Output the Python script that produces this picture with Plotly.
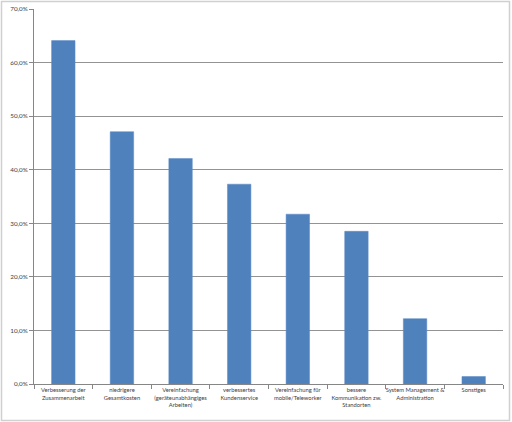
import plotly.graph_objects as go

categories = [
    "Verbesserung der<br>Zusammenarbeit",
    "niedrigere<br>Gesamtkosten",
    "Vereinfachung<br>(geräteunabhängiges<br>Arbeiten)",
    "verbessertes<br>Kundenservice",
    "Vereinfachung für<br>mobile/Teleworker",
    "bessere<br>Kommunikation zw.<br>Standorten",
    "System Management &<br>Administration",
    "Sonstiges",
]
values = [64.1, 47.1, 42.1, 37.3, 31.7, 28.5, 12.2, 1.4]
y_ticks = [0, 10, 20, 30, 40, 50, 60, 70]
y_tick_labels = ["0,0%", "10,0%", "20,0%", "30,0%", "40,0%", "50,0%", "60,0%", "70,0%"]

W, H = 512, 422
ml, mr, mt, mb = 34, 9, 9, 38
pw = W - ml - mr
ph = H - mt - mb

fig = go.Figure(go.Bar(
    x=categories, y=values,
    marker=dict(color="#4F81BD", line=dict(color="#5B8AC5", width=0.5)),
    hoverinfo="skip",
))

def px_to_paper_x(px):
    return (px - ml) / pw

def px_to_paper_y(py):
    return (H - mb - py) / ph

fig.update_layout(
    width=W, height=H,
    margin=dict(l=ml, r=mr, t=mt, b=mb, autoexpand=False),
    paper_bgcolor="white", plot_bgcolor="white",
    bargap=0.6,
    showlegend=False,
    font=dict(family="Lato, Open Sans, sans-serif", size=6, color="#404040"),
    shapes=[dict(
        type="rect", xref="paper", yref="paper",
        x0=px_to_paper_x(1.5), x1=px_to_paper_x(509.5),
        y0=px_to_paper_y(420.5), y1=px_to_paper_y(1.5),
        line=dict(color="#D0D0D0", width=1.5), layer="below",
    )],
)
fig.update_xaxes(
    automargin=False,
    showgrid=False, showline=True, linecolor="#868686", linewidth=1,
    ticks="outside", tickson="boundaries", ticklen=4, tickcolor="#868686",
    tickfont=dict(size=5.8, color="#404040"), tickangle=0,
)
fig.update_yaxes(
    automargin=False,
    range=[0, 70], tickvals=y_ticks, ticktext=y_tick_labels,
    showgrid=True, gridcolor="#939393", gridwidth=1,
    showline=True, linecolor="#868686", linewidth=1,
    ticks="outside", ticklen=4, tickcolor="#868686",
    tickfont=dict(size=6.3, color="#404040"), zeroline=False,
)

fig.write_html(
    "out.html",
    config={"displayModeBar": False},
    post_script="document.body.style.margin='0';document.body.style.overflow='hidden';",
)
